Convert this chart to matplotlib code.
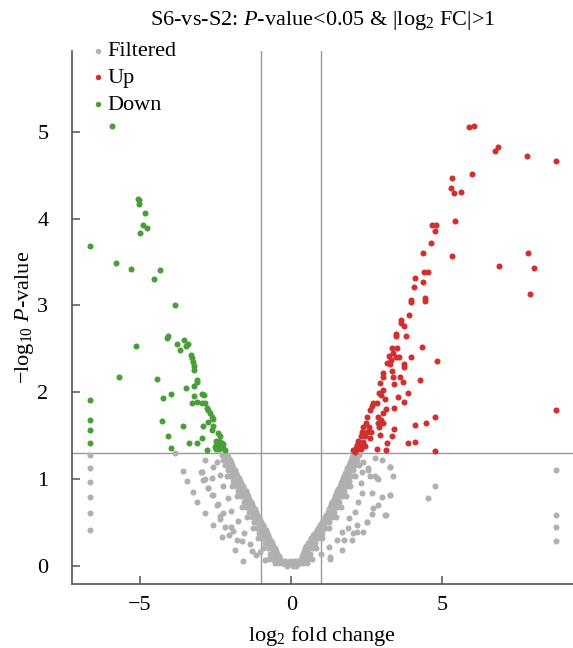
"""
Volcano plot: S6-vs-S2
"""

import matplotlib
matplotlib.use("Agg")
import matplotlib.pyplot as plt

plt.rcParams['font.family'] = ['Liberation Serif', 'DejaVu Serif']
plt.rcParams['mathtext.fontset'] = 'custom'
plt.rcParams['mathtext.rm'] = 'Liberation Serif'
plt.rcParams['mathtext.it'] = 'Liberation Serif:italic'

GRAY = '#b0b0ae'
RED = '#d03030'
GREEN = '#4a9e3a'

P_CUT = 1.301   # -log10(0.05)
FC_CUT = 1.0

# ---- Up (red) points: (log2 FC, -log10 P)
up_points = [
    (5.88, 5.06), (6.04, 5.07), (6.74, 4.78), (6.84, 4.83), (7.80, 4.72), (8.76, 4.67),
    (5.31, 4.47), (5.98, 4.52), (5.28, 4.35), (5.38, 4.29), (5.61, 4.31),
    (4.65, 3.93), (4.78, 3.93), (4.75, 3.86), (5.41, 3.97), (4.62, 3.72), (4.35, 3.61),
    (5.31, 3.57), (7.83, 3.61), (6.87, 3.46), (8.03, 3.43), (4.39, 3.38), (4.52, 3.38),
    (4.09, 3.32), (4.35, 3.27), (4.06, 3.21), (7.90, 3.13), (3.96, 3.06), (4.42, 3.08),
    (3.96, 3.04), (4.42, 3.05), (3.89, 2.89), (3.63, 2.83), (3.63, 2.80), (3.72, 2.76),
    (3.46, 2.67), (3.46, 2.65), (3.79, 2.65), (4.32, 2.52), (3.33, 2.51), (3.49, 2.51),
    (4.82, 2.36), (3.36, 2.45), (3.23, 2.42), (3.46, 2.41), (3.56, 2.41), (3.96, 2.41),
    (3.29, 2.37), (3.16, 2.34), (3.26, 2.32), (3.72, 2.32), (3.72, 2.29), (3.33, 2.24),
    (3.03, 2.22), (3.03, 2.17), (3.36, 2.18), (3.59, 2.18), (4.25, 2.14), (3.69, 2.12),
    (2.93, 2.11), (3.39, 2.09), (3.03, 2.03), (2.90, 1.99), (2.96, 1.97), (3.86, 1.99),
    (3.53, 1.95), (3.10, 1.92), (3.72, 1.89), (2.70, 1.87), (2.83, 1.88), (2.67, 1.84),
    (3.39, 1.82), (3.13, 1.81), (2.60, 1.80), (3.03, 1.76), (2.86, 1.72), (2.50, 1.72),
    (4.75, 1.71), (8.76, 1.79), (2.96, 1.68), (2.47, 1.65), (2.86, 1.65), (3.03, 1.65),
    (4.46, 1.64), (4.09, 1.62), (2.37, 1.60), (2.57, 1.60), (2.90, 1.60), (3.39, 1.58),
    (2.33, 1.54), (2.50, 1.54), (2.63, 1.54), (2.93, 1.51), (3.33, 1.50), (2.30, 1.49),
    (2.43, 1.49), (2.60, 1.47), (3.86, 1.42), (4.09, 1.43), (2.20, 1.44), (2.37, 1.43),
    (3.16, 1.41), (2.17, 1.39), (2.27, 1.38), (2.43, 1.38), (2.14, 1.36), (2.83, 1.34),
    (3.13, 1.33), (4.75, 1.32), (2.04, 1.33), (2.20, 1.34), (2.30, 1.35), (2.10, 1.31),
]

# ---- Down (green) points
down_points = [
    (-5.94, 5.07), (-5.08, 4.23), (-5.05, 4.21), (-5.05, 4.17), (-4.85, 4.07),
    (-4.91, 3.93), (-4.78, 3.89), (-5.01, 3.84), (-6.67, 3.69), (-5.78, 3.49),
    (-5.31, 3.42), (-4.35, 3.41), (-4.55, 3.31), (-3.86, 3.00), (-4.09, 2.65),
    (-4.12, 2.62), (-3.79, 2.56), (-3.69, 2.49), (-3.53, 2.60), (-3.43, 2.56),
    (-3.49, 2.53), (-5.12, 2.53), (-3.33, 2.43), (-3.29, 2.40), (-3.26, 2.35),
    (-3.20, 2.30), (-3.20, 2.26), (-5.68, 2.18), (-4.45, 2.15), (-3.13, 2.14),
    (-3.13, 2.12), (-3.23, 2.07), (-3.49, 2.05), (-3.96, 1.98), (-4.25, 1.93),
    (-2.96, 1.98), (-2.90, 1.97), (-3.20, 1.96), (-3.10, 1.89), (-3.29, 1.87),
    (-2.96, 1.87), (-2.86, 1.88), (-6.67, 1.91), (-2.80, 1.82), (-2.76, 1.79),
    (-2.70, 1.76), (-2.63, 1.72), (-2.60, 1.69), (-2.76, 1.66), (-4.29, 1.67),
    (-2.93, 1.61), (-2.60, 1.61), (-3.59, 1.61), (-6.67, 1.68), (-2.63, 1.57),
    (-6.67, 1.56), (-2.43, 1.53), (-2.37, 1.49), (-4.09, 1.50), (-2.96, 1.47),
    (-6.67, 1.42), (-2.50, 1.44), (-2.40, 1.44), (-2.30, 1.42), (-2.47, 1.42),
    (-3.39, 1.41), (-3.10, 1.42), (-3.99, 1.36), (-2.53, 1.37), (-2.37, 1.37),
    (-2.27, 1.36), (-2.80, 1.33), (-2.50, 1.34), (-2.20, 1.33), (-2.43, 1.40),
    (-2.33, 1.38), (-2.40, 1.35), (-2.27, 1.40), (-2.50, 1.39),
]

# ---- Filtered (gray): dense band along the V, rows of (y, [x ...])
filtered_left_band = [
    (1.28, [-2.13, -2.22, -2.30]), (1.25, [-2.08, -2.18]),
    (1.22, [-2.04, -2.14, -2.26]), (1.19, [-2.00, -2.10]),
    (1.16, [-1.96, -2.06, -2.18]), (1.13, [-1.91, -2.02]),
    (1.10, [-1.87, -1.98, -2.10]), (1.07, [-1.83, -1.93]),
    (1.04, [-1.78, -1.89, -2.01, -2.14]), (1.01, [-1.74, -1.85]),
    (0.98, [-1.69, -1.80, -1.92]), (0.95, [-1.65, -1.76]),
    (0.92, [-1.60, -1.71, -1.83, -1.97]), (0.89, [-1.56, -1.67]),
    (0.86, [-1.51, -1.62, -1.75]), (0.83, [-1.47, -1.58]),
    (0.80, [-1.43, -1.54, -1.66, -1.80]), (0.77, [-1.38, -1.49]),
    (0.74, [-1.34, -1.45, -1.57]), (0.71, [-1.29, -1.40]),
    (0.68, [-1.25, -1.36, -1.48, -1.62]), (0.65, [-1.21, -1.32]),
    (0.62, [-1.16, -1.27, -1.40]), (0.59, [-1.12, -1.23]),
    (0.56, [-1.07, -1.18, -1.31, -1.45]), (0.53, [-1.03, -1.14]),
    (0.50, [-0.99, -1.10, -1.22]), (0.47, [-0.94, -1.05]),
    (0.44, [-0.90, -1.01, -1.14, -1.28]), (0.41, [-0.85, -0.96]),
    (0.38, [-0.81, -0.92, -1.05]), (0.35, [-0.76, -0.87]),
    (0.32, [-0.72, -0.83, -0.96, -1.10]), (0.29, [-0.68, -0.79]),
    (0.26, [-0.63, -0.74, -0.87]), (0.23, [-0.59, -0.70]),
    (0.20, [-0.54, -0.65, -0.78, -0.92]), (0.17, [-0.50, -0.61]),
    (0.14, [-0.46, -0.57, -0.70]), (0.11, [-0.41, -0.52]),
    (0.08, [-0.37, -0.48, -0.61, -0.75]), (0.05, [-0.33, -0.44]),
    (0.03, [-0.29, -0.40, -0.52]),
]

filtered_right_band = [
    (1.28, [2.04, 2.14, 2.25]), (1.25, [2.00, 2.10]),
    (1.22, [1.97, 2.07, 2.19]), (1.19, [1.93, 2.03]),
    (1.16, [1.90, 2.00, 2.12, 2.25]), (1.13, [1.86, 1.96]),
    (1.10, [1.83, 1.93, 2.05]), (1.07, [1.79, 1.89]),
    (1.04, [1.75, 1.86, 1.98, 2.11]), (1.01, [1.72, 1.82]),
    (0.98, [1.68, 1.79, 1.91]), (0.95, [1.64, 1.75]),
    (0.92, [1.60, 1.71, 1.83, 1.96]), (0.89, [1.56, 1.67]),
    (0.86, [1.52, 1.63, 1.75]), (0.83, [1.48, 1.59]),
    (0.80, [1.44, 1.55, 1.67, 1.80]), (0.77, [1.40, 1.51]),
    (0.74, [1.36, 1.47, 1.59]), (0.71, [1.32, 1.43]),
    (0.68, [1.28, 1.39, 1.51, 1.64]), (0.65, [1.24, 1.35]),
    (0.62, [1.20, 1.31, 1.43]), (0.59, [1.16, 1.27]),
    (0.56, [1.11, 1.22, 1.34, 1.47]), (0.53, [1.06, 1.17]),
    (0.50, [1.01, 1.12, 1.24]), (0.47, [0.96, 1.07]),
    (0.44, [0.90, 1.01, 1.13, 1.26]), (0.41, [0.85, 0.96]),
    (0.38, [0.79, 0.90, 1.02]), (0.35, [0.73, 0.84]),
    (0.32, [0.67, 0.78, 0.90, 1.03]), (0.29, [0.61, 0.72]),
    (0.26, [0.54, 0.65, 0.77]), (0.23, [0.50, 0.61]),
    (0.20, [0.45, 0.56, 0.68, 0.81]), (0.17, [0.42, 0.53]),
    (0.14, [0.38, 0.49, 0.61]), (0.11, [0.35, 0.46]),
    (0.08, [0.32, 0.43, 0.55, 0.68]), (0.05, [0.30, 0.41]),
    (0.03, [0.28, 0.39, 0.51]),
]

filtered_bottom = [
    (0.02, [-0.22, -0.11, 0.00, 0.11, 0.20]),
    (0.05, [-0.20, -0.05, 0.10, 0.20]),
    (0.00, [-0.15, 0.05, 0.15]),
]

# ---- Filtered (gray): scattered points off the band
filtered_scatter = [
    (-3.86, 1.30), (-2.86, 1.22), (-3.59, 1.09), (-2.96, 1.08), (-2.60, 1.14),
    (-3.46, 0.98), (-2.86, 1.00), (-2.63, 1.01), (-3.26, 0.85), (-2.76, 0.90),
    (-2.60, 0.81), (-3.10, 0.74), (-2.43, 0.71), (-2.86, 0.61), (-2.27, 0.61),
    (-2.60, 0.47), (-2.37, 0.54), (-2.30, 0.33), (-2.07, 0.36), (-1.94, 0.40),
    (-1.64, 0.28), (-1.87, 0.18), (-1.31, 0.17), (-1.61, 0.05), (-1.04, 0.16),
    (-0.88, 0.07), (-3.00, 1.08), (-2.93, 0.99), (-2.76, 0.90), (-2.63, 0.82),
    (-2.46, 0.70), (-2.37, 0.57), (-2.20, 0.45), (-2.00, 0.45), (-1.80, 0.30),
    (-2.45, 1.20), (-2.35, 1.05), (-2.25, 0.92), (-2.10, 0.78), (-1.98, 0.63),
    (-1.75, 0.52), (-1.55, 0.38), (-1.35, 0.25), (-1.15, 0.12),
    (-6.67, 1.28), (-6.67, 1.13), (-6.67, 0.97), (-6.67, 0.79), (-6.67, 0.61),
    (-6.67, 0.41),
    (2.76, 1.24), (3.00, 1.22), (3.26, 1.14), (2.53, 1.13), (2.33, 1.08),
    (2.60, 1.03), (2.76, 1.03), (2.86, 1.00), (3.36, 1.04), (2.33, 0.84),
    (2.67, 0.84), (3.00, 0.79), (3.26, 0.82), (2.20, 0.74), (2.86, 0.70),
    (2.70, 0.67), (3.13, 0.59), (2.67, 0.60), (2.50, 0.51), (2.17, 0.47),
    (1.87, 0.44), (2.04, 0.38), (2.37, 0.39), (1.67, 0.39), (2.00, 0.30),
    (1.50, 0.30), (1.67, 0.18), (1.24, 0.22), (1.27, 0.08), (1.00, 0.14),
    (4.52, 0.78), (4.75, 0.92), (2.37, 1.20), (2.53, 1.10), (2.83, 1.01),
    (3.26, 1.14), (3.26, 0.82), (3.10, 0.59), (2.50, 0.51), (2.17, 0.39),
    (1.74, 0.30), (1.27, 0.10), (2.30, 0.95), (2.10, 0.62), (1.90, 0.55),
    (8.76, 1.10), (8.76, 0.59), (8.76, 0.45), (8.76, 0.28),
]


def expand(rows):
    pts = []
    for y, xs in rows:
        for x in xs:
            pts.append((x, y))
    return pts


filtered_points = (expand(filtered_left_band) + expand(filtered_right_band)
                   + expand(filtered_bottom) + filtered_scatter)

fig = plt.figure(figsize=(5.73, 6.48), dpi=100)
ax = fig.add_axes([0.1257, 0.0988, 0.8743, 0.8222])

fx, fy = zip(*filtered_points)
ux, uy = zip(*up_points)
dx, dy = zip(*down_points)

ax.scatter(fx, fy, s=19, c=GRAY, linewidths=0, label='Filtered', zorder=3)
ax.scatter(ux, uy, s=19, c=RED, linewidths=0, label='Up', zorder=3)
ax.scatter(dx, dy, s=19, c=GREEN, linewidths=0, label='Down', zorder=3)

# threshold lines
ax.axhline(P_CUT, color='#9a9a9a', lw=1.0, zorder=1)
ax.axvline(-FC_CUT, color='#9a9a9a', lw=1.0, zorder=1)
ax.axvline(FC_CUT, color='#9a9a9a', lw=1.0, zorder=1)

ax.set_xlim(-7.25, 9.32)
ax.set_ylim(-0.21, 5.93)
ax.set_xticks([-5, 0, 5])
ax.set_yticks([0, 1, 2, 3, 4, 5])

for side in ['top', 'right']:
    ax.spines[side].set_visible(False)
for side in ['left', 'bottom']:
    ax.spines[side].set_color('#555555')
    ax.spines[side].set_linewidth(1.2)
ax.tick_params(direction='in', length=6, width=1.1, color='#555555',
               labelsize=16)
ax.tick_params(axis='x', pad=9)
ax.tick_params(axis='y', pad=17)

ax.set_title('S6-vs-S2: $P$-value<0.05 & |log$_2$ FC|>1', fontsize=16, pad=19)
ax.set_xlabel('log$_2$ fold change', fontsize=16, labelpad=6)
ax.set_ylabel('\u2212log$_{10}$ $P$-value', fontsize=16, labelpad=1)

ax.legend(loc='upper left', bbox_to_anchor=(0.02, 1.036), frameon=False,
          fontsize=16, handlelength=0.6, handletextpad=0.15, labelspacing=0.28,
          markerscale=0.9, borderaxespad=0)

fig.savefig('out.png', dpi=100)
